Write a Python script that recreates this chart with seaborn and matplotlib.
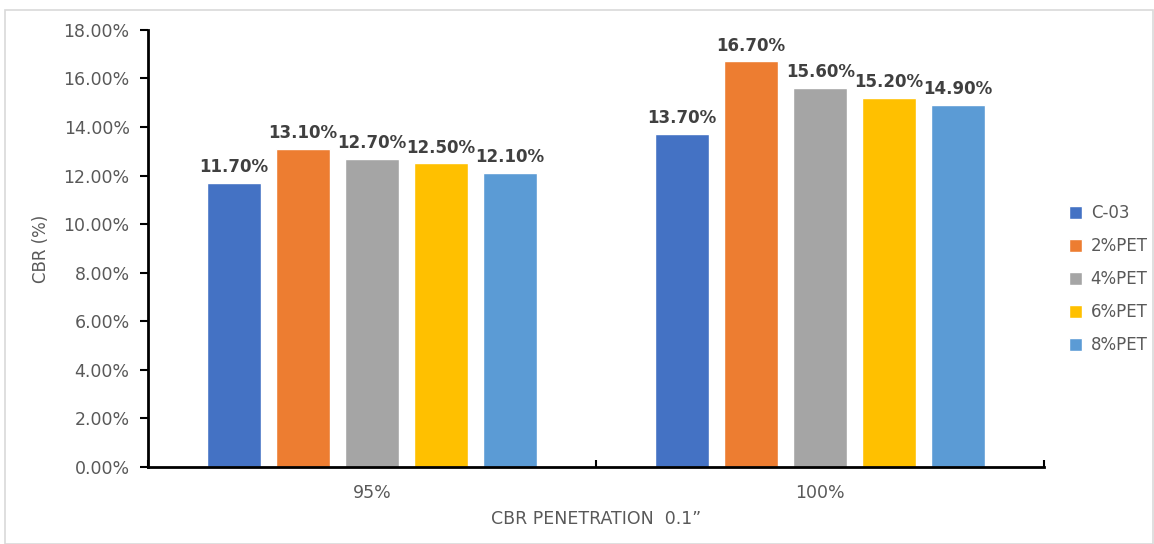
import matplotlib.pyplot as plt
import matplotlib.ticker as mticker
import pandas as pd
import seaborn as sns
from matplotlib.patches import Rectangle

categories = ["95%", "100%"]
series = ["C-03", "2%PET", "4%PET", "6%PET", "8%PET"]
values_95 = [11.7, 13.1, 12.7, 12.5, 12.1]
values_100 = [13.7, 16.7, 15.6, 15.2, 14.9]
colors = ["#4472C4", "#ED7D31", "#A5A5A5", "#FFC000", "#5B9BD5"]


def main() -> None:
    rows = []
    for cat, vals in zip(categories, [values_95, values_100]):
        for s, v in zip(series, vals):
            rows.append({"penetration": cat, "mix": s, "cbr": v})
    df = pd.DataFrame(rows)

    sns.set_style("white")
    plt.rcParams["font.family"] = ["DejaVu Sans"]

    fig = plt.figure(figsize=(11.54, 5.44), dpi=100)
    ax = fig.add_axes([0.128, 0.1415, 0.777, 0.8035])

    sns.barplot(data=df, x="penetration", y="cbr", hue="mix", order=categories,
                hue_order=series, palette=colors, width=0.77, gap=0.217,
                saturation=1, ax=ax, errorbar=None)

    for cont in ax.containers:
        ax.bar_label(cont, fmt="%.2f%%", padding=5, fontsize=12,
                     fontweight="bold", color="#404040")

    ax.set_ylim(0, 18)
    ax.set_xlim(-0.5, 1.5)
    ax.yaxis.set_major_locator(mticker.MultipleLocator(2))
    ax.yaxis.set_major_formatter(mticker.FormatStrFormatter("%.2f%%"))
    ax.tick_params(axis="y", direction="out", length=6, width=1.5, pad=7,
                   color="black", labelsize=12.5, labelcolor="#595959", left=True)

    ax.set_xticks([0, 1])
    ax.set_xticklabels(categories)
    ax.tick_params(axis="x", which="major", length=0, pad=12,
                   labelsize=12.5, labelcolor="#595959")
    ax.set_xticks([-0.5, 0.5, 1.5], minor=True)
    ax.tick_params(axis="x", which="minor", direction="in", length=5,
                   width=1.5, color="black", bottom=True)

    for side in ["top", "right"]:
        ax.spines[side].set_visible(False)
    for side in ["left", "bottom"]:
        ax.spines[side].set_color("black")
        ax.spines[side].set_linewidth(2)

    ax.set_xlabel("CBR PENETRATION  0.1\u201d", fontsize=12.5, color="#595959",
                  labelpad=6)
    ax.set_ylabel("CBR (%)", fontsize=12, color="#595959", labelpad=10)

    ax.legend(loc="center left", bbox_to_anchor=(1.02, 0.43), frameon=False,
              borderaxespad=0, fontsize=12, labelcolor="#595959",
              handlelength=0.8, handleheight=0.8, handletextpad=0.5,
              labelspacing=0.9)

    fig.patches.append(Rectangle((0.004, 0.0), 0.995, 0.982,
                                 transform=fig.transFigure, fill=False,
                                 edgecolor="#D9D9D9", linewidth=1.2))

    fig.savefig("out.png", dpi=100)
    plt.close(fig)


if __name__ == "__main__":
    main()
